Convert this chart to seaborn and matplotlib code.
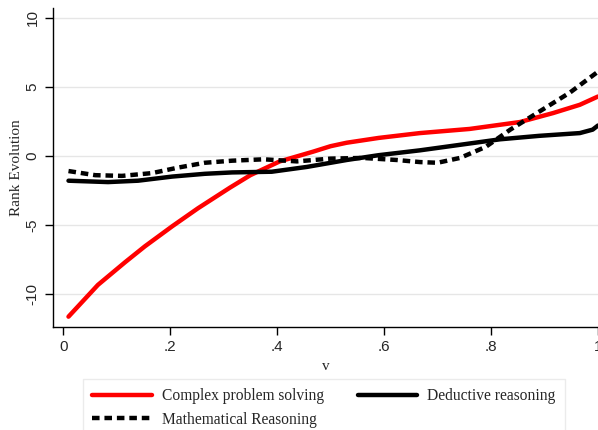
import pandas as pd
import matplotlib
matplotlib.use("Agg")
import matplotlib.pyplot as plt
import seaborn as sns

# values
cps_v = [0.01, 0.065, 0.116, 0.153, 0.204, 0.252, 0.312, 0.35, 0.405, 0.467,
         0.5, 0.53, 0.59, 0.667, 0.76, 0.854, 0.916, 0.966, 1.0]
cps_y = [-11.65, -9.35, -7.7, -6.55, -5.1, -3.8, -2.3, -1.4, -0.4, 0.3,
         0.7, 0.95, 1.3, 1.65, 1.95, 2.45, 3.1, 3.7, 4.3]

ded_v = [0.01, 0.084, 0.14, 0.204, 0.265, 0.316, 0.39, 0.456, 0.53, 0.59,
         0.667, 0.742, 0.817, 0.89, 0.966, 0.99, 1.0]
ded_y = [-1.8, -1.9, -1.8, -1.5, -1.3, -1.2, -1.15, -0.8, -0.3, 0.05,
         0.4, 0.8, 1.2, 1.45, 1.65, 1.9, 2.2]

math_v = [0.01, 0.06, 0.11, 0.166, 0.215, 0.265, 0.316, 0.375, 0.437, 0.5,
          0.56, 0.624, 0.667, 0.7, 0.742, 0.79, 0.836, 0.89, 0.948, 1.0]
math_y = [-1.1, -1.4, -1.45, -1.25, -0.85, -0.5, -0.35, -0.25, -0.4, -0.2,
          -0.15, -0.3, -0.45, -0.5, -0.15, 0.65, 1.9, 3.2, 4.6, 6.1]

x_ticks = [0, 0.2, 0.4, 0.6, 0.8, 1.0]
x_labels = ["0", ".2", ".4", ".6", ".8", "1"]
y_ticks = [-10, -5, 0, 5, 10]

sns.set_style("white")
plt.rcParams["font.family"] = ["Liberation Serif", "DejaVu Serif"]

fig = plt.figure(figsize=(5.98, 4.30), dpi=100)
ax = fig.add_axes([0.0886, 0.2395, 0.9114, 0.7415])

for y in y_ticks:
    ax.axhline(y, color="#e6e6e6", lw=1, zorder=0)

sns.lineplot(x=cps_v, y=cps_y, ax=ax, color="#ff0000", lw=3.2,
             label="Complex problem solving")
sns.lineplot(x=math_v, y=math_y, ax=ax, color="black", lw=3.2,
             label="Mathematical Reasoning")
sns.lineplot(x=ded_v, y=ded_y, ax=ax, color="black", lw=3.2,
             label="Deductive reasoning")
ax.lines[-2].set_dashes((1.7, 1.1))

ax.set_xlim(-0.019, 1.0)
ax.set_ylim(-12.4, 10.7)
ax.set_xticks(x_ticks)
ax.set_xticklabels(x_labels, family="Liberation Sans", fontsize=11)
ax.set_yticks(y_ticks)
ax.set_yticklabels([str(t) for t in y_ticks], family="Liberation Sans",
                   fontsize=11, rotation=90, va="center")
ax.tick_params(axis="both", direction="out", length=6, width=1, color="black",
               bottom=True, left=True)
ax.set_xlabel("v", fontsize=11)
ax.set_ylabel("Rank Evolution", fontsize=11, labelpad=2)

for s in ["top", "right"]:
    ax.spines[s].set_visible(False)
for s in ["left", "bottom"]:
    ax.spines[s].set_color("black")
    ax.spines[s].set_linewidth(1)

handles, labels = ax.get_legend_handles_labels()
ax.get_legend().remove()
leg = fig.legend(handles, labels, ncol=2, loc="upper left",
                 bbox_to_anchor=(0.139, 0.119), borderaxespad=0,
                 fontsize=11.2, frameon=True, fancybox=False,
                 edgecolor="#e6e6e6", handlelength=3.8, handletextpad=0.65,
                 columnspacing=2.2, borderpad=0.6, labelspacing=0.5)
leg.get_frame().set_linewidth(1)

fig.savefig("out.png", dpi=100)
